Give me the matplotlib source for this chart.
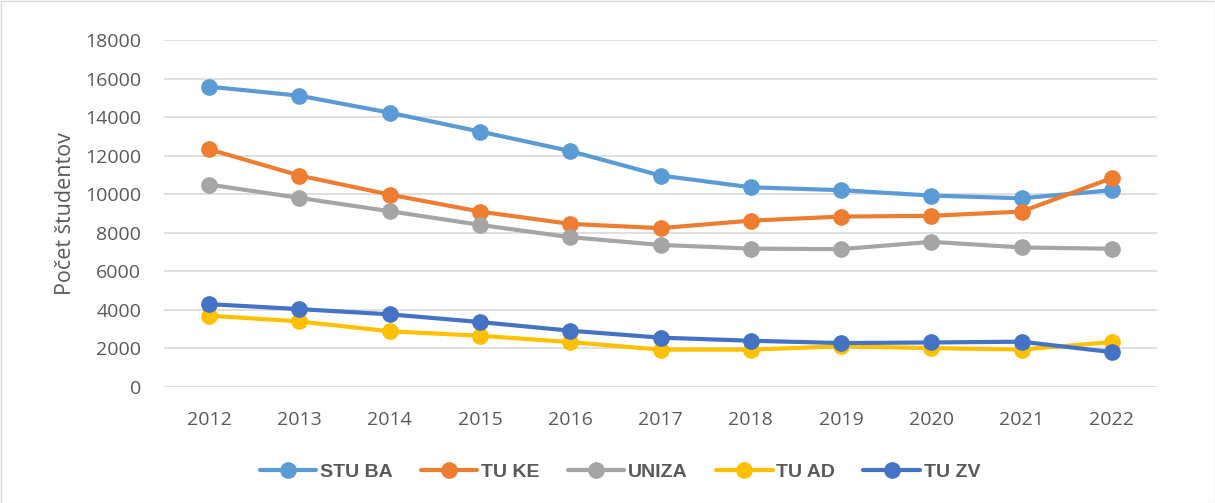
import matplotlib.pyplot as plt
from matplotlib.patches import Rectangle

# Roky a počty študentov podľa univerzity
years = ['2012', '2013', '2014', '2015', '2016', '2017', '2018', '2019', '2020', '2021', '2022']
stu_ba = [15580, 15110, 14230, 13250, 12240, 10970, 10360, 10210, 9930, 9790, 10210]
tu_ke = [12330, 10970, 9980, 9100, 8460, 8240, 8630, 8840, 8880, 9100, 10840]
uniza = [10500, 9810, 9120, 8410, 7770, 7370, 7180, 7150, 7530, 7240, 7170]
tu_ad = [3700, 3400, 2890, 2660, 2330, 1940, 1940, 2110, 2020, 1940, 2330]
tu_zv = [4300, 4040, 3770, 3370, 2920, 2560, 2400, 2280, 2310, 2350, 1810]

series = [('STU BA', stu_ba, '#5B9BD5'),
          ('TU KE', tu_ke, '#ED7D31'),
          ('UNIZA', uniza, '#A5A5A5'),
          ('TU AD', tu_ad, '#FFC000'),
          ('TU ZV', tu_zv, '#4472C4')]

plt.rcParams['font.family'] = ['Open Sans', 'DejaVu Sans']

fig = plt.figure(figsize=(12.15, 5.03), dpi=100)
ax = fig.add_axes([164 / 1215, 1 - 387 / 503, (1157 - 164) / 1215, (387 - 40) / 503])

x = range(len(years))
for name, vals, color in series:
    ax.plot(x, vals, color=color, linewidth=3, marker='o', markersize=11,
            label=name, solid_capstyle='round', zorder=3)

ax.set_xlim(-0.5, len(years) - 0.5)
ax.set_ylim(0, 18000)
ax.set_yticks(range(0, 18001, 2000))
ax.set_xticks(list(x))
ax.set_xticklabels(years)
ax.grid(axis='y', color='#D9D9D9', linewidth=1.2)
ax.set_axisbelow(True)
for s in ax.spines.values():
    s.set_visible(False)
ax.tick_params(length=0, labelsize=14, colors='#595959')
ax.tick_params(axis='x', pad=17)
ax.tick_params(axis='y', pad=16.5)
ax.set_ylabel('Počet študentov', fontsize=15.5, color='#595959')
ax.yaxis.set_label_coords((76 - 164) / 993, 0.5)

leg = fig.legend(loc='center', bbox_to_anchor=(620 / 1215, 1 - 472 / 503), ncol=5,
                 frameon=False, handlelength=2.9, columnspacing=1.45, handletextpad=0.2,
                 prop={'family': ['Liberation Sans', 'DejaVu Sans'], 'weight': 'bold', 'size': 14})
for t in leg.get_texts():
    t.set_color('#595959')

fig.patches.append(Rectangle((0.5 / 1215, 0.5 / 503), 1 - 1 / 1215, 1 - 1 / 503,
                             transform=fig.transFigure, fill=False,
                             edgecolor='#D9D9D9', linewidth=1))

fig.savefig('out.png', dpi=100)
